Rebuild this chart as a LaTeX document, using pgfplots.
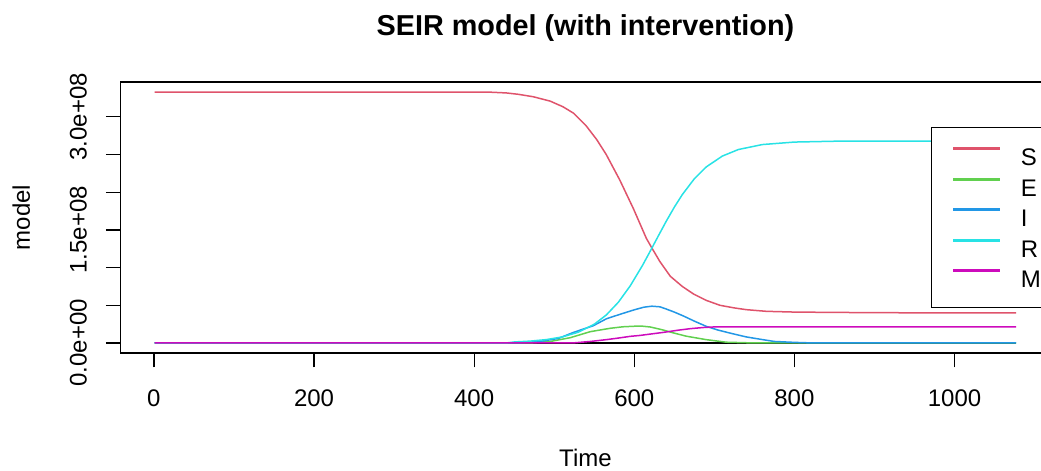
\documentclass[border=0pt]{standalone}
\usepackage{fontspec}
\setmainfont{Liberation Sans}
\usepackage{pgfplots}
\pgfplotsset{compat=1.18}
\usetikzlibrary{calc}
\definecolor{serS}{HTML}{DF536B}
\definecolor{serE}{HTML}{61D04F}
\definecolor{serI}{HTML}{2297E6}
\definecolor{serR}{HTML}{28E2E5}
\definecolor{serM}{HTML}{CD0BBC}
\begin{document}
\begin{tikzpicture}
\begin{axis}[
  at={(0pt,0pt)}, anchor=south west,
  scale only axis, width=465.15pt, height=135.5pt,
  xmin=-42, xmax=1120, ymin=-1.33e7, ymax=3.463e8,
  axis line style={line width=0.6pt, black},
  xtick={0,200,400,600,800,1000}, xticklabels={0,200,400,600,800,1000},
  ytick={0,5e7,1e8,1.5e8,2e8,2.5e8,3e8}, yticklabels={0.0e+00,,,1.5e+08,,,3.0e+08},
  scaled x ticks=false, scaled y ticks=false,
  tick align=outside, xtick pos=lower, ytick pos=left,
  major tick length=7.2pt,
  every tick/.style={black, line width=0.6pt},
  xticklabel shift=0pt, yticklabel shift=0pt,
  xticklabel style={anchor=base, inner sep=0pt, yshift=-19.8pt, font=\fontsize{12}{14.4}\selectfont},
  yticklabel style={xshift=-9.6pt, rotate=90, anchor=base, inner sep=0pt, font=\fontsize{12}{14.4}\selectfont},
  title={\bfseries SEIR model (with intervention)},
  title style={at={(axis description cs:0.5,1)}, anchor=base, yshift=17.5pt, inner sep=0pt, font=\fontsize{14.4}{17}\selectfont},
  xlabel={Time},
  every axis x label/.style={at={(axis description cs:0.5,0)}, anchor=base, yshift=-56.75pt, inner sep=0pt, font=\fontsize{12}{14.4}\selectfont},
  ylabel={model},
  every axis y label/.style={at={($(axis description cs:0,0.5)+(-45.15pt,0pt)$)}, rotate=90, anchor=base, inner sep=0pt, font=\fontsize{12}{14.4}\selectfont},
  every axis plot/.append style={line width=0.75pt},
  legend cell align=left,
  legend style={at={(0.8714,0.5)}, anchor=west, draw=black, fill=white,
    inner xsep=11pt, inner ysep=10pt, row sep=5.9pt, column sep=10.5pt,
    font=\fontsize{12}{14.4}\selectfont,
    nodes={inner sep=0pt, text height=8.6pt, text depth=0pt}},
  legend image code/.code={\fill[#1] (0pt,3.95pt) rectangle (22.5pt,4.65pt);},
]
\addplot[black, forget plot] coordinates {(1,0)(1077,0)};
\addplot[serS] coordinates {(1,3.328e8)(420,3.328e8)(440,3.318e8)(455,3.30e8)(474,3.267e8)(495,3.209e8)(511,3.134e8)(524,3.05e8)(540,2.88e8)(553,2.70e8)(565,2.50e8)(582,2.16e8)(599,1.78e8)(615,1.39e8)(622,1.26e8)(632,1.08e8)(645,0.885e8)(660,0.75e8)(674,0.65e8)(690,0.565e8)(707,0.50e8)(725,0.465e8)(740,0.442e8)(765,0.42e8)(800,0.41e8)(857,0.405e8)(950,0.40e8)(1077,0.398e8)};
\addlegendentry{S}
\addplot[serE] coordinates {(1,0)(470,0)(495,0.02e8)(520,0.07e8)(545,0.15e8)(570,0.195e8)(586,0.215e8)(600,0.222e8)(611,0.222e8)(620,0.212e8)(635,0.175e8)(649,0.133e8)(665,0.09e8)(690,0.044e8)(715,0.01e8)(740,0.003e8)(760,0)(1077,0)};
\addlegendentry{E}
\addplot[serI] coordinates {(1,0)(455,0)(482,0.02e8)(505,0.06e8)(524,0.14e8)(549,0.23e8)(565,0.32e8)(582,0.38e8)(600,0.44e8)(612,0.475e8)(622,0.488e8)(632,0.48e8)(640,0.45e8)(650,0.41e8)(661,0.36e8)(675,0.29e8)(690,0.22e8)(705,0.17e8)(720,0.13e8)(740,0.08e8)(760,0.045e8)(775,0.02e8)(800,0.008e8)(824,0)(1077,0)};
\addlegendentry{I}
\addplot[serR] coordinates {(1,0)(440,0)(450,0.0136e8)(470,0.0247e8)(490,0.0446e8)(510,0.080e8)(530,0.1425e8)(550,0.249e8)(565,0.371e8)(580,0.539e8)(595,0.759e8)(610,1.024e8)(620,1.22e8)(630,1.42e8)(640,1.617e8)(650,1.802e8)(660,1.969e8)(675,2.179e8)(690,2.337e8)(710,2.48e8)(730,2.567e8)(760,2.633e8)(800,2.666e8)(850,2.677e8)(1077,2.68e8)};
\addlegendentry{R}
\addplot[serM] coordinates {(1,0)(523,0)(545,0.02e8)(565,0.044e8)(580,0.065e8)(595,0.088e8)(607,0.10e8)(620,0.118e8)(636,0.14e8)(655,0.17e8)(670,0.19e8)(686,0.205e8)(700,0.213e8)(720,0.215e8)(1077,0.215e8)};
\addlegendentry{M}
\end{axis}
\pgfresetboundingbox
\useasboundingbox (-60.15pt,-59pt) rectangle (460.35pt,176.5pt);
\end{tikzpicture}
\end{document}
